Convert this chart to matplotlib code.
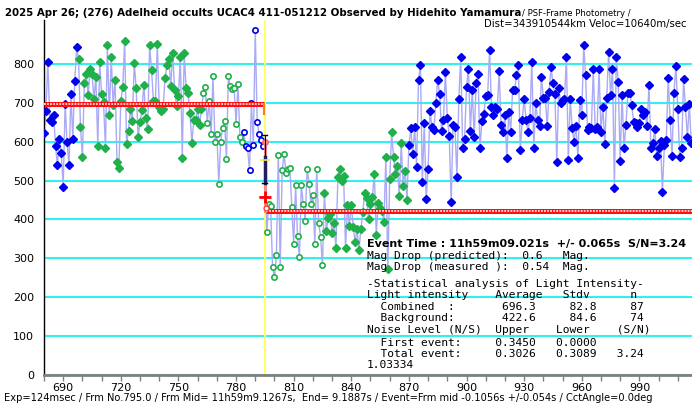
import matplotlib
matplotlib.use("Agg")
import matplotlib.pyplot as plt
import numpy as np

# light curve, one value per frame starting at frame 680
first_frame = 680
blue_before = [623, 678, 806, 656, 650, 668, 589, 539, 607, 571, 484, 697, 600, 540, 722, 608, 755, 843]
green_before = [813, 638, 560, 750, 774, 721, 787, 775, 710, 767,
                590, 804, 722, 702, 583, 848, 668, 818, 695, 758,
                548, 533, 704, 741, 859, 594, 628, 683, 654, 803,
                737, 613, 650, 681, 746, 662, 632, 848, 784, 704,
                705, 850, 690, 678, 683, 764, 796, 813, 744, 829,
                734, 693, 717, 817, 557, 829, 738, 724, 675, 596,
                656, 656, 683, 643, 683]
green_open_before = [724, 741, 648, 705, 620, 768, 600, 620, 492, 600, 636,
                     654, 556, 768, 742, 735, 737, 645, 748, 612, 600]
blue_open_before = [624, 588, 583, 527, 699, 591, 887, 650, 619, 605, 590]
event_value = [598]
green_open_after = [369, 440, 435, 277, 251, 308, 566, 278, 527, 568,
                    519, 530, 532, 433, 337, 488, 357, 303, 488, 440,
                    396, 531, 491, 440, 463, 337, 531, 392, 356, 283]
green_after = [469, 371, 405, 415, 364, 392, 326, 508, 529, 500,
               512, 326, 437, 383, 437, 380, 343, 375, 321, 375,
               420, 469, 454, 400, 440, 458, 517, 360, 442, 430,
               422, 394, 561, 272, 503, 624, 561, 518, 537, 460,
               597, 487, 525, 450]
blue_after = [591, 634, 568, 637, 536, 758, 797, 497, 647, 452,
              531, 680, 637, 630, 700, 758, 722, 628, 657, 778,
              662, 614, 444, 643, 637, 510, 711, 818, 583, 608,
              741, 788, 628, 734, 612, 751, 774, 583, 654, 670,
              717, 720, 835, 690, 668, 688, 685, 781, 643, 626,
              668, 559, 676, 626, 733, 732, 771, 797, 578, 655,
              711, 657, 626, 660, 806, 583, 700, 655, 640, 767,
              713, 713, 640, 728, 791, 750, 722, 548, 738, 700,
              706, 710, 818, 553, 711, 634, 600, 640, 559, 706,
              668, 848, 771, 630, 637, 634, 786, 632, 637, 786,
              626, 690, 594, 713, 831, 720, 788, 482, 817, 754,
              551, 720, 583, 643, 724, 724, 694, 651, 648, 637,
              647, 684, 668, 676, 640, 745, 583, 597, 632, 564,
              585, 602, 471, 591, 605, 764, 657, 564, 725, 795,
              685, 561, 583, 760, 688, 611, 698, 597]

event_frame = 795
upper_level = 696.3
lower_level = 422.6
err_top, err_bottom = 617, 493
bar_top, bar_bottom = 561, 493
yellow_mark = 554
red_mark = 458

segments = [
    (blue_before, "D", "#0000ee", True),
    (green_before, "D", "#20b04a", True),
    (green_open_before, "o", "#20b04a", False),
    (blue_open_before, "o", "#0000ee", False),
    (event_value, "o", "#ff6060", False),
    (green_open_after, "o", "#20b04a", False),
    (green_after, "D", "#20b04a", True),
    (blue_after, "D", "#0000ee", True),
]

values = np.concatenate([s[0] for s in segments])
frames = np.arange(first_frame, first_frame + len(values))

W, H = 692, 407
fig = plt.figure(figsize=(W / 100, H / 100), dpi=100)
ax = fig.add_axes([44 / W, 32 / H, 1 - 44 / W, (375 - 20) / H])
ax.set_xlim(680, 1017.4)
ax.set_ylim(0, 913)

ax.plot(frames, values, color="#aaaaf6", lw=1.0, zorder=2)

start = first_frame
for vals, marker, col, filled in segments:
    f = np.arange(start, start + len(vals))
    if filled:
        ax.plot(f, vals, ls="none", marker=marker, ms=4.0, color=col, mec=col, zorder=4)
    else:
        ax.plot(f, vals, ls="none", marker=marker, ms=3.8, mfc="white", mec=col, mew=1.2, zorder=4)
    start += len(vals)

# fitted levels
for x0, x1, lv in [(680, event_frame - 0.6, upper_level), (event_frame + 0.6, 1018, lower_level)]:
    ax.plot([x0, x1], [lv, lv], color="#ff1010", lw=3.6, solid_capstyle="butt", zorder=5)
    ax.plot([x0, x1], [lv, lv], color="white", lw=1.1, ls=(0, (1.2, 0.8)), zorder=6)
ax.plot([event_frame - 0.6] * 2, [upper_level, 672], color="#ff8000", lw=1.5, zorder=6)
ax.plot([event_frame + 0.6], [lower_level + 6], "o", ms=3.5, mfc="white", mec="#ff4040", zorder=7)

ax.axvline(event_frame, color="#ffff70", lw=1.5, zorder=1)

# event error bars
ax.plot([event_frame, event_frame], [event_value[0], lower_level], color="#ff8080", lw=2, zorder=5)
ax.plot([event_frame, event_frame], [err_top, err_bottom], color="black", lw=0.8, zorder=6)
ax.plot([event_frame, event_frame], [bar_top, bar_bottom], color="#202060", lw=2.5, zorder=6)
for v in [err_top, err_bottom]:
    ax.plot([event_frame - 1.3, event_frame + 1.3], [v, v], color="black", lw=1, zorder=6)
ax.plot([event_frame - 2, event_frame + 2], [yellow_mark, yellow_mark], color="#ffe040", lw=1.2, zorder=6)
ax.plot([event_frame - 2.5, event_frame + 2.5], [red_mark, red_mark], color="#ff40ff", lw=1.2, zorder=6)
ax.plot([event_frame], [red_mark], "+", ms=8, mew=2, color="#ff0000", zorder=7)

for sp in ["top", "right"]:
    ax.spines[sp].set_visible(False)
ax.spines["left"].set_color("black")
ax.spines["left"].set_linewidth(1)
ax.spines["bottom"].set_color("#808080")
ax.spines["bottom"].set_linewidth(2)

ax.set_yticks(range(0, 900, 100))
ax.tick_params(axis="y", length=0, pad=7, labelsize=8)
ax.grid(axis="y", color="#30f0f0", lw=1.5)
ax.set_axisbelow(True)
ax.set_xticks(range(690, 1018, 30))
ax.set_xticks(range(680, 1018, 10), minor=True)
ax.tick_params(axis="x", which="both", length=4, width=1, color="#808080", direction="out", pad=2, labelsize=8)

renderer = fig.canvas.get_renderer()


def put(x, y, s, width=None, **kw):
    t = fig.text(x / W, 1 - y / H, s, va="center", **kw)
    if width:
        w = t.get_window_extent(renderer).width
        t.set_fontsize(t.get_fontsize() * width / w)
    return t


put(5, 13, "2025 Apr 26; (276) Adelheid occults UCAC4 411-051212 Observed by Hidehito Yamamura",
    width=513, fontsize=8, fontweight="bold")
put(522, 13, "/ PSF-Frame Photometry /", width=109, fontsize=8)
put(484, 24, "Dist=343910544km Veloc=10640m/sec", width=204, fontsize=8)
put(4, 398, "Exp=124msec / Frm No.795.0 / Frm Mid= 11h59m9.1267s,  End= 9.1887s / "
    "Event=Frm mid -0.1056s +/-0.054s / CctAngle=0.0deg", width=648, fontsize=8)

put(367, 244, "Event Time : 11h59m09.021s  +/- 0.065s  S/N=3.24", width=321,
    fontsize=8, fontweight="bold")
mono_lines = [
    (256, "Mag Drop (predicted):  0.6   Mag."),
    (267, "Mag Drop (measured ):  0.54  Mag."),
    (284, "-Statistical analysis of Light Intensity-"),
    (295, "Light intensity    Average   Stdv      n"),
    (307, "  Combined  :       696.3     82.8     87"),
    (318, "  Background:       422.6     84.6     74"),
    (330, "Noise Level (N/S)  Upper    Lower    (S/N)"),
    (343, "  First event:     0.3450   0.0000"),
    (354, "  Total event:     0.3026   0.3089   3.24"),
    (365, "1.03334"),
]
for y, s in mono_lines:
    put(367, y, s, family="DejaVu Sans Mono", fontsize=8.1)

fig.savefig("out.png", dpi=100)
